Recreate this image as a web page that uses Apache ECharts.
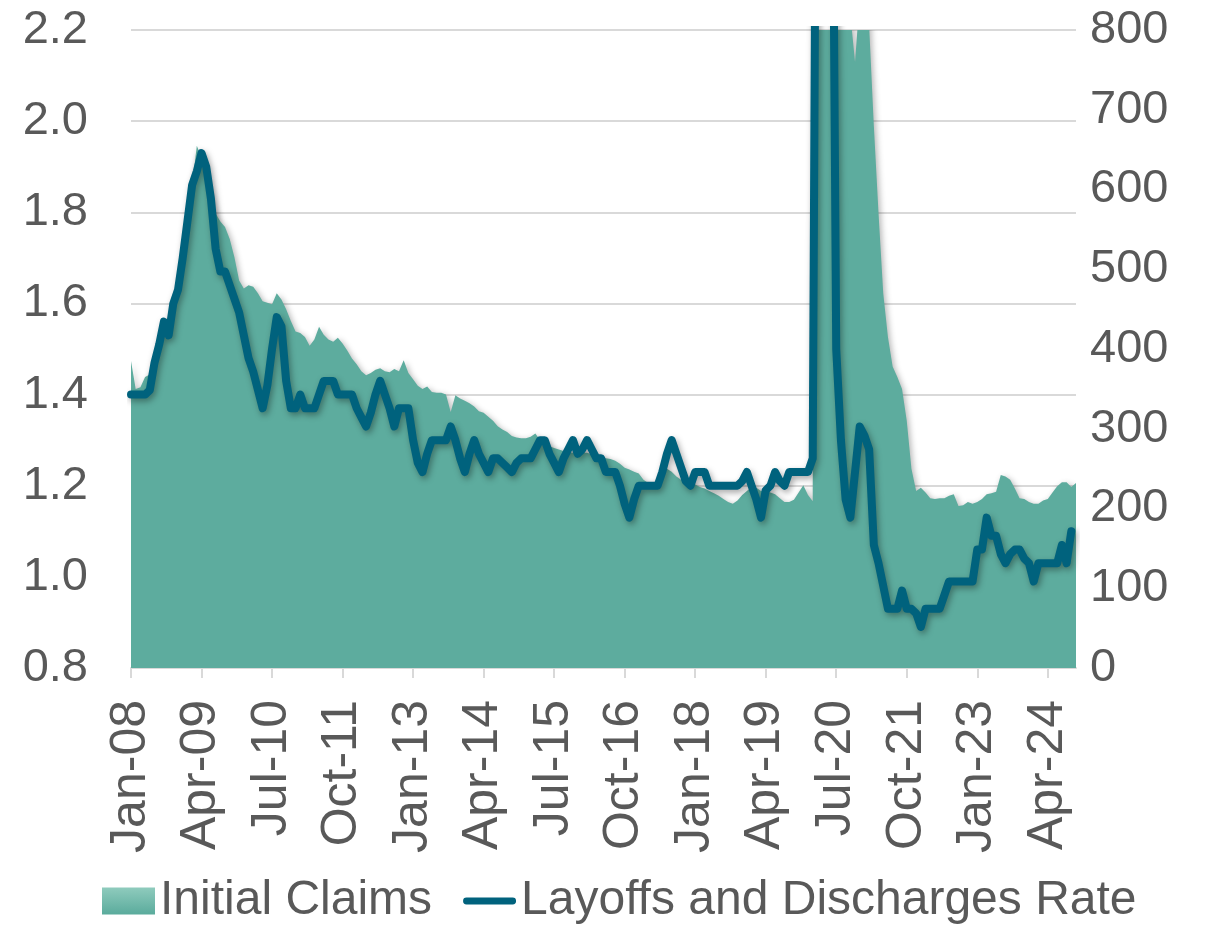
<!DOCTYPE html>
<html>
<head>
<meta charset="utf-8">
<title>Initial Claims vs Layoffs and Discharges Rate</title>
<script src="https://cdn.jsdelivr.net/npm/echarts@6.0.0/dist/echarts.min.js"></script>
<style>
  html, body { margin: 0; padding: 0; background: #fff; }
  #chart { width: 1218px; height: 926px; }
</style>
</head>
<body>
<div id="chart"></div>
<script>
// monthly categories Jan-08 .. Oct-24
const monthNames = ['Jan', 'Feb', 'Mar', 'Apr', 'May', 'Jun', 'Jul', 'Aug', 'Sep', 'Oct', 'Nov', 'Dec']
const months = []
for (let y = 2008; y <= 2024; y++) {
  for (let m = 0; m < 12; m++) {
    if (y === 2024 && m > 9) break
    months.push(monthNames[m] + '-' + String(y).slice(2))
  }
}

// Layoffs and discharges rate (%), left axis, Jan-08 .. Sep-24
const layoffsRate = [
  1.40, 1.40, 1.40, 1.40, 1.41, 1.47, 1.51, 1.56, 1.53, 1.60, 1.63, 1.70, // 2008
  1.78, 1.86, 1.89, 1.93, 1.90, 1.83, 1.72, 1.67, 1.67, 1.64, 1.61, 1.58, // 2009
  1.53, 1.48, 1.45, 1.41, 1.37, 1.42, 1.50, 1.57, 1.55, 1.43, 1.37, 1.37, // 2010
  1.40, 1.37, 1.37, 1.37, 1.40, 1.43, 1.43, 1.43, 1.40, 1.40, 1.40, 1.40, // 2011
  1.37, 1.35, 1.33, 1.36, 1.40, 1.43, 1.40, 1.37, 1.33, 1.37, 1.37, 1.37, // 2012
  1.30, 1.25, 1.23, 1.27, 1.30, 1.30, 1.30, 1.30, 1.33, 1.30, 1.26, 1.23, // 2013
  1.27, 1.30, 1.27, 1.25, 1.23, 1.26, 1.26, 1.25, 1.24, 1.23, 1.25, 1.26, // 2014
  1.26, 1.26, 1.28, 1.30, 1.30, 1.27, 1.25, 1.23, 1.26, 1.28, 1.30, 1.27, // 2015
  1.28, 1.30, 1.28, 1.26, 1.26, 1.23, 1.23, 1.23, 1.20, 1.16, 1.13, 1.17, // 2016
  1.20, 1.20, 1.20, 1.20, 1.20, 1.23, 1.27, 1.30, 1.27, 1.24, 1.21, 1.20, // 2017
  1.23, 1.23, 1.23, 1.20, 1.20, 1.20, 1.20, 1.20, 1.20, 1.20, 1.21, 1.23, // 2018
  1.20, 1.17, 1.13, 1.19, 1.20, 1.23, 1.21, 1.20, 1.23, 1.23, 1.23, 1.23, // 2019
  1.23, 1.26, 3.30, 4.90, 5.10, 3.00, 1.50, 1.30, 1.17, 1.13, 1.23, 1.33, // 2020
  1.31, 1.28, 1.07, 1.03, 0.98, 0.93, 0.93, 0.93, 0.97, 0.93, 0.93, 0.92, // 2021
  0.89, 0.93, 0.93, 0.93, 0.93, 0.96, 0.99, 0.99, 0.99, 0.99, 0.99, 0.99, // 2022
  1.06, 1.06, 1.13, 1.09, 1.09, 1.05, 1.03, 1.05, 1.06, 1.06, 1.04, 1.03, // 2023
  0.99, 1.03, 1.03, 1.03, 1.03, 1.03, 1.07, 1.03, 1.10                    // 2024
]

// Initial claims (thousands), right axis, Jan-08 .. Oct-24
const initialClaims = [
  385, 350, 352, 365, 368, 375, 398, 420, 415, 450, 465, 505, // 2008
  555, 605, 655, 640, 620, 595, 570, 560, 553, 538, 515, 486, // 2009
  476, 480, 478, 470, 460, 458, 456, 470, 462, 450, 435, 422, // 2010
  420, 415, 404, 412, 428, 418, 412, 409, 414, 407, 398, 388, // 2011
  381, 372, 367, 370, 374, 376, 372, 371, 375, 372, 386, 370, // 2012
  362, 354, 350, 353, 346, 345, 345, 343, 321, 342, 338, 335, // 2013
  332, 328, 322, 320, 315, 310, 303, 299, 296, 291, 289, 288, // 2014
  288, 290, 294, 286, 282, 278, 276, 274, 272, 271, 270, 271, // 2015
  270, 270, 268, 266, 265, 263, 262, 260, 256, 251, 249, 246, // 2016
  244, 236, 232, 232, 232, 240, 250, 246, 240, 236, 236, 232, // 2017
  230, 227, 225, 222, 219, 216, 212, 208, 206, 210, 217, 222, // 2018
  227, 226, 222, 223, 220, 218, 213, 208, 208, 211, 220, 229, // 2019
  217, 209, 2600, 4300, 2500, 1500, 1300, 1100, 870, 820, 760, 840, // 2020
  850, 805, 680, 570, 470, 415, 378, 365, 350, 310, 250, 222, // 2021
  226, 220, 213, 212, 213, 213, 216, 218, 203, 204, 208, 206, // 2022
  208, 212, 218, 219, 221, 242, 240, 236, 225, 213, 212, 208, // 2023
  206, 206, 210, 212, 220, 228, 233, 233, 227, 232            // 2024
]

const leftTicks = { min: 0.8, max: 2.2, step: 0.2 }
const rightTicks = { min: 0, max: 800, step: 100 }

const textColor = '#595959'
const gridColor = '#d9d9d9'
const lineColor = '#00627d'
const areaColor = '#5dac9e'
const font = 'Liberation Sans, Arial, sans-serif'

const chart = echarts.init(document.getElementById('chart'))
chart.setOption({
  animation: false,
  textStyle: { fontFamily: font },
  grid: { left: 131, right: 142, top: 30, bottom: 258 },
  legend: {
    left: 97,
    top: 872,
    itemGap: 31,
    itemWidth: 53,
    itemHeight: 27,
    symbolKeepAspect: true,
    textStyle: { color: textColor, fontSize: 48, fontFamily: font },
    data: [
      {
        name: 'Initial Claims',
        icon: 'rect',
        itemStyle: {
          color: new echarts.graphic.LinearGradient(0, 0, 0, 1, [
            { offset: 0, color: '#8fcbbd' },
            { offset: 1, color: '#5aab9c' }
          ])
        }
      },
      {
        name: 'Layoffs and Discharges Rate',
        icon: 'path://M3,0L50,0A3.5,3.5,0,0,1,50,7L3,7A3.5,3.5,0,0,1,3,0Z',
        itemStyle: { color: lineColor }
      }
    ]
  },
  xAxis: {
    type: 'category',
    data: months,
    boundaryGap: false,
    axisLine: { lineStyle: { color: gridColor, width: 2 } },
    axisTick: { interval: 14, length: 10, lineStyle: { color: gridColor, width: 2 } },
    axisLabel: {
      interval: 14,
      rotate: 90,
      margin: 32,
      color: textColor,
      fontSize: 50,
      fontFamily: font
    },
    splitLine: { show: false }
  },
  yAxis: [
    {
      type: 'value',
      min: leftTicks.min,
      max: leftTicks.max,
      interval: leftTicks.step,
      axisLine: { show: false },
      axisTick: { show: false },
      axisLabel: {
        margin: 43,
        color: textColor,
        fontSize: 47,
        fontFamily: font,
        formatter: v => v.toFixed(1)
      },
      splitLine: { lineStyle: { color: gridColor, width: 2 } }
    },
    {
      type: 'value',
      min: rightTicks.min,
      max: rightTicks.max,
      interval: rightTicks.step,
      axisLine: { show: false },
      axisTick: { show: false },
      axisLabel: { margin: 14, color: textColor, fontSize: 47, fontFamily: font },
      splitLine: { show: false }
    }
  ],
  series: [
    {
      name: 'Initial Claims',
      type: 'line',
      yAxisIndex: 1,
      data: initialClaims,
      symbol: 'none',
      clip: true,
      z: 2,
      itemStyle: { color: areaColor },
      lineStyle: { width: 0 },
      areaStyle: {
        color: areaColor,
        opacity: 1,
        shadowBlur: 6,
        shadowOffsetX: 2,
        shadowOffsetY: 2,
        shadowColor: 'rgba(0,0,0,0.3)'
      }
    },
    {
      name: 'Layoffs and Discharges Rate',
      type: 'line',
      yAxisIndex: 0,
      data: layoffsRate,
      symbol: 'none',
      clip: true,
      z: 3,
      itemStyle: { color: lineColor },
      lineStyle: {
        color: lineColor,
        width: 8,
        cap: 'round',
        join: 'round',
        shadowBlur: 6,
        shadowOffsetX: 2,
        shadowOffsetY: 3,
        shadowColor: 'rgba(0,0,0,0.35)'
      }
    }
  ]
})
</script>
</body>
</html>
